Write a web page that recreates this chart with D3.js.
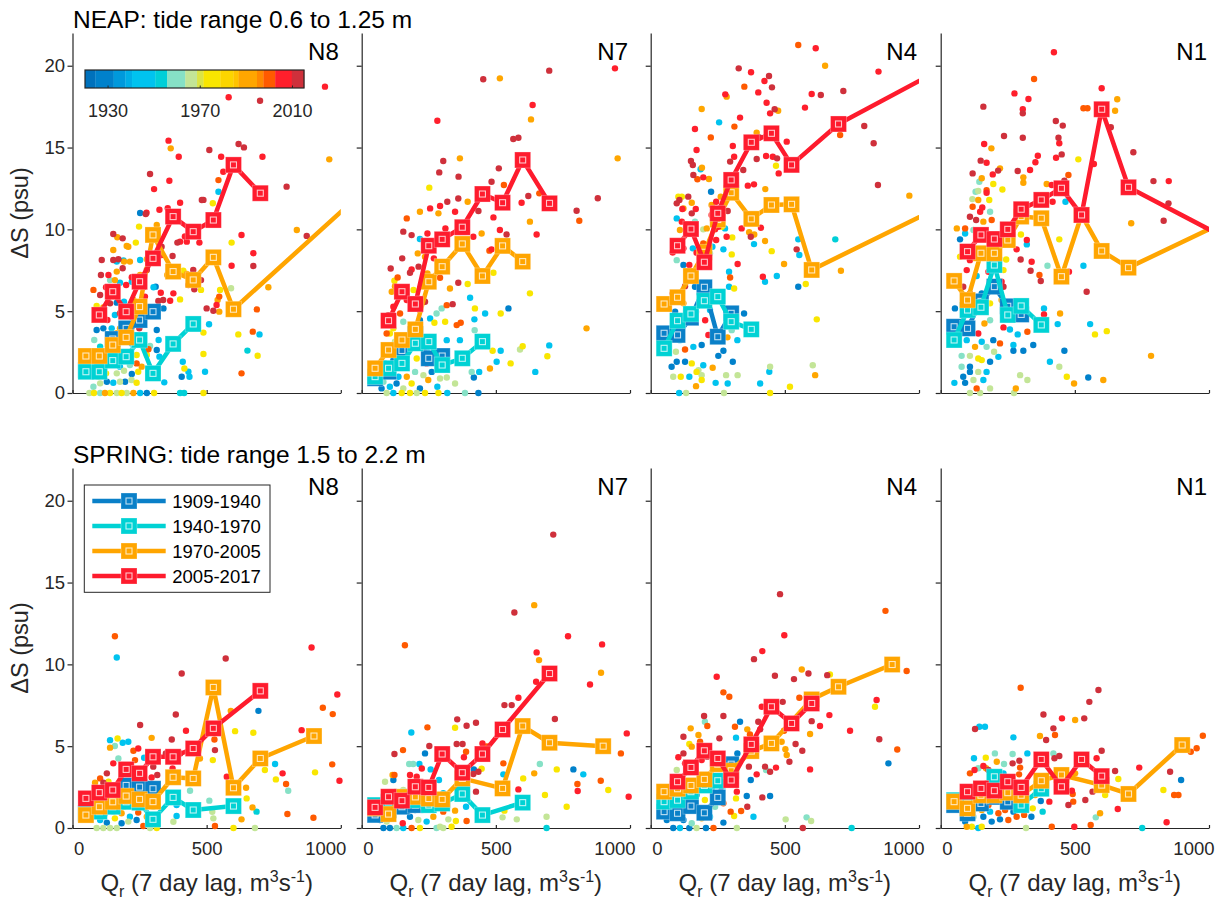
<!DOCTYPE html>
<html>
<head>
<meta charset="utf-8">
<script src="https://cdn.jsdelivr.net/npm/d3@7"></script>
<style>
body { margin: 0; background: #fff; }
text { font-family: "Liberation Sans", Arial, Helvetica, sans-serif; }
</style>
</head>
<body>
<svg width="1219" height="902"></svg>
<script>
// ---- data -------------------------------------------------------------
// discharge bins (m3/s) used by the binned mean lines, 1250 = "above 1000" bin
var qBins = [50, 100, 150, 200, 250, 300, 375, 450, 525, 600, 700, 900, 1250];
var periods = ["1909-1940", "1940-1970", "1970-2005", "2005-2017"];
var periodColors = ["#0a80c8", "#00d2d4", "#ffa500", "#fe1b2d"];

// colour bar: year breaks and colours
var cbBreaks = [1920, 1924.5, 1932.4, 1937.5, 1940.4, 1950.5, 1955.6, 1963.5, 1968.6, 1971.4, 1978.7, 1984.4, 1986.6, 1994.6, 1997.4, 2002.5, 2009.7, 2015];
var cbColors = ["#0071bc", "#0081cb", "#0099dc", "#00aee7", "#00c3ef", "#00cfd8", "#86e1c6", "#c3e597", "#dbe445", "#f9e600", "#fcd500", "#ffc400", "#ffa600", "#ff8800", "#ff5a00", "#ff1f2c", "#cf303b"];
var cbTicks = [1930, 1970, 2010];

var yTicks = [0, 5, 10, 15, 20];
var xTicks = [0, 500, 1000];

// NEAP binned means (one value per qBins entry, null = no bin)
var neapN8P1 = [1.4, 1.9, 3.3, 3.95, 4.46, 4.97];
var neapN8P2 = [1.30, 1.30, 1.98, 2.22, 3.24, 1.20, 3.0, 4.22];
var neapN8P3 = [2.26, 2.26, 2.93, 3.40, 5.28, 9.66, 7.42, 6.91, 8.29, 5.12, null, null, 14.78];
var neapN8P4 = [null, 4.77, 6.19, 4.97, 6.80, 8.23, 10.78, 9.86, 10.57, 13.94, 12.21];

var neapN7P1 = [0.9, 1.3, 2.6, 3.6, 2.12, 2.26];
var neapN7P2 = [1.0, 1.51, 1.81, 3.04, 3.14, 1.71, 2.12, 3.14];
var neapN7P3 = [1.51, 2.63, 3.24, 3.89, 6.80, 7.72, 9.11, 7.15, 8.99, 8.03];
var neapN7P4 = [null, 4.42, 6.19, 5.44, 9.0, 9.39, 10.13, 12.16, 11.63, 14.24, 11.59];

var neapN4P1 = [3.65, 3.55, 4.6, 6.46, 3.44, 4.87];
var neapN4P2 = [2.73, 4.42, 4.83, 5.64, 5.89, 4.36, 3.89];
var neapN4P3 = [5.44, 5.85, 7.15, 8.6, 10.6, 12.24, 10.64, 11.49, 11.53, 7.52, null, null, 12.75];
var neapN4P4 = [null, 9.0, 10.02, 7.99, 10.98, 13.02, 15.32, 15.87, 13.94, null, 16.44, null, 21.26];

var neapN1P1 = [4.05, 3.95, 5.6, 6.5, 5.3, 4.8];
var neapN1P2 = [3.24, 5.07, 5.24, 7.82, 4.77, 5.32, 4.16];
var neapN1P3 = [6.85, 5.68, 8.54, 8.54, 9.35, 10.78, 10.68, 7.11, 10.88, 8.68, 7.66, null, 11.95];
var neapN1P4 = [null, 8.64, 9.66, 9.41, 10.0, 11.23, 11.80, 12.51, 10.88, 17.34, 12.57, null, 7.86];

// SPRING binned means
var springN8P1 = [0.9, 1.2, 1.8, 2.6, 2.5, 2.4];
var springN8P2 = [0.9, 1.0, 1.30, 1.6, 1.55, 0.53, 1.87, 1.10, null, 1.34];
var springN8P3 = [0.79, 1.30, 1.6, 1.95, 1.75, 1.61, 3.10, 3.03, 8.59, 2.46, 4.25, 5.62];
var springN8P4 = [1.81, 2.16, 2.32, 3.58, 3.34, 4.35, 4.35, 4.86, 6.09, null, 8.38];

var springN7P1 = [0.8, 1.1, 1.3, 1.4, 1.6, 1.7];
var springN7P2 = [1.4, 1.6, 1.9, 1.7, 1.4, 1.5, 2.08, 0.79, null, 1.55];
var springN7P3 = [1.2, 0.85, 1.9, 1.9, 1.8, 1.75, 3.03, null, 2.42, 6.23, 5.21, 5.0];
var springN7P4 = [1.26, 1.91, 1.67, 2.52, 2.48, 4.52, 3.38, 4.52, 6.02, null, 9.44];

var springN4P1 = [1.0, 0.9, 1.34, 0.93, 1.87, 3.9];
var springN4P2 = [1.61, 1.7, 2.22, 2.6, 2.89];
var springN4P3 = [2.22, 2.4, 2.6, 2.97, 3.9, 3.5, 4.7, 5.17, null, 7.86, 8.63, 9.99];
var springN4P4 = [null, 2.83, 3.70, 4.72, 4.25, 2.93, 5.11, 7.41, 6.39, 7.61];

var springN1P1 = [1.4, 0.9, 1.5, 1.9, 1.6, 1.5];
var springN1P2 = [1.7, 1.5, 2.1, 3.13, 2.3, 1.40, 2.4];
var springN1P3 = [1.61, 1.20, 2.0, 2.0, 2.16, 2.0, 2.89, 3.24, null, 2.62, 2.08, 5.07];
var springN1P4 = [null, 2.22, 2.42, 2.28, 2.83, 2.48, 4.19, 2.52, 4.19, 3.17];

// individual observations: [Qr, dS, year]
var neapN8Pts = [
[276,11.02,2006],[273,10.94,2012],[324,11.2,2006],[355,11.29,2006],[401,11.63,2006],[488,11.8,2012],[523,11.6,1975],[252,11.0,1928],
[314,10.27,1990],[248,10.17,1975],[236,9.19,1975],[202,8.98,1990],[152,9.72,2012],[187,9.45,2012],[167,9.52,1990],[109,8.13,2012],[152,8.13,2012],[171,8.17,2012],[192,8.03,1990],[214,8.03,1990],[252,8.13,1945],[190,8.1,1945],[277,8.17,1990],[304,8.13,2006],[332,8.43,2006],[373,8.37,2012],[401,9.25,2006],[426,9.25,2006],[473,9.19,2006],[391,9.19,2012],[419,9.56,2006],[332,8.94,2012],
[353,7.21,1990],[382,7.21,2012],[413,7.48,1975],[426,7.27,1990],[450,7.52,2012],[479,6.9,2012],[479,6.3,1975],[454,6.34,2012],[432,6.6,2012],[376,6.09,2006],[401,5.72,1975],[364,5.64,2006],[338,5.68,2012],[329,6.13,2006],[310,6.5,1928],[320,5.62,2012],
[500,5.17,2012],[525,5.03,2012],[537,5.38,2006],[541,5.68,1990],[547,5.89,2000],[550,6.3,1975],[547,4.97,1990],[509,4.2,1945],[488,3.69,1975],[488,2.38,1975],[494,1.3,1945],[411,1.91,1945],[417,1.5,1975],[432,1.3,1945],[436,0.99,1945],[407,0.99,1928],[416,0,1953],[401,0,1953],[488,0,1975],
[591,6.4,1966],[630,9.66,2006],[593,9.19,1975],[674,8.54,2006],[674,7.76,2012],[593,7.78,2006],[730,6.46,1990],[687,5.11,2000],[618,3.58,1975],[672,3.75,2000],[697,3.58,1945],[652,2.59,1953],[690,2.28,1975],[630,1.2,2000],[836,9.96,1990],[873,9.6,2012],
[324,2.22,1945],[342,0.65,1945],[321,3.24,1945],[295,4.87,1928],[339,5.17,1928],
[63,0,1966],[80,0,1975],[103,0,1960],[121,0,1990],[140,0,1975],[165,0,1966],[183,0,1975],[202,0,1966],[227,0,1990],[252,0,1945],[277,0,1928],[304,0,1975],
[78,0.38,1960],[103,0.59,1966],[128,0.69,1928],[152,0.63,1945],[177,0.69,1966],[196,0.69,1928],[220,0.79,1966],[239,0.63,1975],
[96,0.99,1966],[125,1.2,1975],[165,1.2,1966],[192,1.36,1966],[221,1.16,1928],[245,1.3,1975],[258,1.61,1990],
[103,1.71,1990],[140,1.81,1975],[177,1.61,1945],[214,1.71,1960],[239,1.81,2000],
[84,2.42,1945],[109,2.12,1928],[146,2.42,1928],[177,2.22,2000],[239,2.32,1975],[277,2.32,1975],[289,2.87,1960],[314,2.63,1928],
[81,3.24,1960],[103,2.83,1953],[140,3.48,1945],[165,3.65,1990],[221,3.03,1945],[249,3.28,2000],[283,2.67,2000],
[90,3.85,1928],[115,3.95,1928],[146,3.95,1945],[177,3.95,1990],[221,4.05,2006],[249,3.95,2012],[314,3.85,1928],
[103,4.62,2012],[130,4.46,2006],[158,4.77,1945],[177,4.87,2012],[221,4.66,1928],[245,4.97,1990],[264,5.28,1945],
[90,5.32,1975],[115,5.23,1990],[140,5.48,2012],[165,5.52,1928],[192,5.58,1945],[227,5.68,1990],[270,5.89,2006],
[78,6.3,2000],[103,5.99,2012],[125,6.46,2006],[158,6.9,1990],[177,6.74,1945],[200,6.6,2006],[221,6.8,1945],[239,6.5,2000],[264,6.46,2012],[302,6.46,1945],[140,6.9,1960],
[106,7.21,2012],[134,7.21,2006],[165,7.42,1990],[187,7.62,2012],[221,7.07,2006],[252,7.21,1990],[277,7.52,2012],[165,8.03,1945],[152,8.74,1990],[208,8.94,1990],
[941,18.72,2006],[582,18.07,2006],[699,17.86,2012],[358,15.42,2006],[366,14.95,1990],[510,14.85,2012],[619,15.22,2012],[639,15.01,2012],[396,14.44,2006],[554,14.44,2006],[708,14.44,2006],[957,14.28,1990],[289,13.38,2012],[361,12.97,2006],[304,12.46,2006],[544,13.01,2000],[544,12.3,1945],[562,13.52,2006],[798,12.61,2012],[482,11.79,2012]
];

var neapN7Pts = [
[944,19.84,2006],[699,19.7,2012],[453,19.17,2012],[515,19.23,1990],[637,17.6,2006],[631,16.72,1990],[282,16.64,2006],[565,15.52,2012],[584,15.6,2012],[954,14.34,1990],[304,14.18,2012],[366,14.34,1990],[289,13.48,2012],[361,13.22,2012],[511,13.73,2012],[484,12.91,2012],[530,12.71,2000],[621,12.04,2012],[596,11.63,2006],[662,12.2,2000],[880,11.9,2012],[801,11.14,2012],[811,10.53,2000],
[252,12.55,1975],[255,11.28,2006],[217,11.08,1990],[286,10.98,1990],[292,11.43,2006],[319,11.69,2012],[360,11.89,2012],[348,11.08,2006],[395,11.69,1990],[435,11.12,2012],[491,10.73,2006],[515,9.96,2006],[540,9.69,2012],[652,9.69,2006],[627,10.47,1990],[447,9.75,1990],[168,10.67,2000],[312,10.06,2006],[155,9.86,2012],[186,9.65,2012],[217,9.41,1945],[245,9.75,2006],[416,9.55,2006],
[108,7.61,2012],[151,8.23,2012],[180,7.35,2012],[186,7.55,2006],[209,8.53,1990],[212,7.72,2012],[236,8.33,1990],[245,7.31,1990],[269,8.23,2006],[292,7.04,2000],[360,6.74,2012],[395,6.66,1975],[484,8.78,2006],[476,8.7,2000],[491,7.35,1975],[627,6.09,1975],[838,3.95,1990],
[134,7.06,2000],[122,6.86,1975],[112,6.19,1990],[118,5.27,2006],[99,4.76,2012],[339,5.43,2012],[317,5.37,2000],[329,6.39,1990],[236,5.58,2012],[255,4.56,1945],[279,4.86,1960],[298,5.17,1960],[271,4.29,1975],[311,4.35,1975],[354,4.15,2000],[369,4.29,2000],[404,5.82,1945],[422,5.17,1975],[420,4.5,1945],[460,4.86,1945],[518,4.86,1975],[547,5.17,1928],[421,3.84,1960],
[317,3.23,1945],[366,3.23,1945],[488,2.58,1975],[518,2.58,1945],[600,2.86,1975],[590,2.66,1966],[699,2.91,1945],[692,2.25,1975],[555,1.81,1975],[503,1.91,1945],[478,1.5,1990],[438,1.29,1945],[410,1.29,1960],[418,0.95,1928],[647,1.29,1945],[435,0,1928],[385,0,1960],[319,0,1945],[286,0,1975],[348,0.58,1966],[317,0.95,1966],[292,0.89,1966],[282,0.38,1945],
[74,0.28,1928],[93,0,1966],[118,0,1945],[149,0,1975],[180,0,1975],[205,0,1966],[236,0,1975],[81,0.68,1960],[105,0.38,1945],[130,0.58,1928],[155,0.28,1966],[186,0.58,1975],[217,0.28,1928],[248,0.79,1990],[105,1.09,1975],[137,0.99,1945],[168,0.99,1990],[199,1.29,1960],[230,1.09,1966],[261,1.29,1928],[87,1.81,1945],[118,2.01,1928],[161,1.91,1960],[205,2.11,1975],[242,1.81,2006],[93,2.82,1960],[124,3.13,1966],[161,3.03,1953],[205,2.82,1928],[242,2.62,1945],[105,3.64,1975],[118,3.95,1975],[155,4.35,1960],[186,4.15,1945],[217,4.45,1928],[143,4.86,2000],[93,3.64,2000],[124,6.53,1990],[168,5.68,2006],[193,6.29,1975],[217,5.07,2006]
];

var neapN4Pts = [
[550,21.27,2000],[615,21.07,2006],[650,20.0,1990],[849,19.64,2006],[328,19.84,2012],[374,19.6,2006],[441,19.37,2012],[424,19.07,2006],[452,18.68,2012],[349,18.72,2000],[401,18.37,2006],[600,18.27,2006],[634,18.21,2012],[718,18.46,2012],[278,18.25,2006],[283,18.11,1990],[432,17.74,2006],[575,17.44,2006],[462,17.34,2012],[475,17.25,1990],[445,17.09,2006],[190,17.36,1990],[333,16.83,2006],[312,16.28,2000],[165,16.13,2006],[255,16.54,1945],[224,15.62,2000],[395,15.91,1990],[405,15.62,2012],[796,16.32,2012],[706,15.77,2000],[831,15.26,2012],[306,15.09,2006],[171,14.85,2006],[311,14.44,2006],[395,14.3,2012],[430,14.48,2006],[455,14.44,2006],[471,14.34,2012],[467,13.89,1975],[477,13.42,2006],[507,15.36,2006],[150,14.18,2012],[157,13.93,2012],[186,13.67,1945],[191,13.77,1990],[159,13.32,2012],[196,13.18,2006],[217,13.08,1990],[174,13.06,2000],[296,14.14,2012],[345,13.63,2012],[362,12.67,2006],[385,12.75,2006],[847,12.71,2012],[964,12.06,1990],[427,12.46,1990],[225,12.3,1928],[116,12.0,1975],[107,11.79,2012],[140,12.0,2012],[153,11.63,1990],[168,11.24,2006],[118,11.24,2006],[227,11.49,1990],[244,11.69,2006],[287,11.12,2012],[261,12.0,1990],[227,10.88,2006],[97,10.67,1945],[116,10.47,2006],[109,9.96,1990],[165,10.47,1960],[196,10.0,1966],[209,10.06,1990],[240,10.0,2006],[252,10.16,2006],[265,10.16,1975],[277,10.06,1945],[283,9.55,2006],[304,9.51,1975],[339,10.06,2006],[367,9.82,1990],[373,9.55,2012],[386,9.69,1990],[411,10.1,2006],[426,9.29,1990],[385,9.1,1945],[451,8.67,1975],[497,7.88,1990],[544,8.78,2012],[554,8.43,1945],[550,9.39,1945],[688,9.39,1953],[709,7.47,1990],[324,7.88,2006],[302,8.47,1975],[271,8.78,1945],[244,9.35,2006],[230,8.94,1945],[211,8.33,1945],[171,8.57,2006],[157,8.84,1945],[122,8.84,2006],[82,8.59,2006],[97,8.12,1960],[122,7.82,1928],[144,7.82,2006],[292,7.41,1945],[296,7.06,2000],[311,6.39,1975],[292,6.49,1945],[418,7.1,2006],[426,6.8,1945],[470,7.15,1945],[550,6.49,1928],[578,6.66,1975],[619,4.5,1975],[604,1.7,1966],[613,1.09,1990],[519,0.38,1975],[445,0,1975],[445,1.6,1966],[442,1.3,1945],[408,0.58,1945],[324,1.09,1966],[287,0.58,1945],[281,1.09,1966],[273,0,1966],[242,0.62,1945],[306,1.91,1928],[271,2.58,1928],[252,2.27,1928],[231,1.54,1990],[323,3.23,1945],[348,4.86,1928],[286,3.4,1990],[302,3.84,1960],
[106,0,1945],[132,0,1966],[84,0.99,1966],[112,0.99,1975],[144,0.99,1945],[171,1.29,1975],[190,1.09,1966],[78,1.6,1928],[97,1.91,1928],[128,1.91,1928],[153,1.81,1975],[178,1.4,1966],[196,1.7,1945],[190,0.79,1975],[169,0.42,1990],[94,2.52,1966],[128,2.66,2000],[159,2.82,1945],[190,2.93,1928],[215,3.54,2006],[109,3.23,1945],[97,4.05,2006],[122,4.35,1960],[147,4.66,1928],[169,4.97,1945],[203,4.45,2006],[221,5.07,1945],[91,4.97,1928],[122,5.48,1990],[82,6.09,2006],[128,6.53,2012],[147,7.0,1975],[165,6.49,1928],[184,7.72,2006],[196,9.14,2000],[221,8.53,1960],[97,11.59,2012],[122,11.28,1990],[153,10.98,2012],[103,12.0,1975]
];

var neapN1Pts = [
[422,20.82,2006],[348,19.19,2000],[275,18.31,2006],[327,17.97,2006],[159,17.5,2012],[600,18.62,2006],[658,17.95,1990],[532,17.4,2000],[547,17.4,2000],[650,17.25,1990],[306,17.34,2006],[306,17.09,2012],[429,16.62,2012],[455,16.34,2012],[236,15.71,2012],[306,15.6,2012],[439,15.6,2012],[442,15.26,2006],[162,15.22,2006],[189,14.95,1990],[718,14.71,2012],[451,14.58,2012],[362,14.5,2006],[430,14.38,2006],[513,14.28,1975],[634,16.24,2012],[149,14.2,2012],[171,14.07,2006],[287,13.57,2012],[353,14.1,2006],[333,13.63,2006],[221,13.73,1990],[214,13.59,2012],[194,13.36,2006],[119,13.42,2012],[153,13.12,1990],[196,12.77,1975],[230,12.44,1975],[308,13.18,1990],[308,12.85,1990],[476,13.32,2000],[395,12.77,1990],[414,12.71,2006],[461,12.97,2012],[571,13.99,2006],[793,12.95,2012],[850,12.95,2006],[849,11.59,2012],[831,10.53,2012],[710,10.37,1990],[144,12.91,1960],[140,12.34,1966],[130,12.3,1960],[118,11.85,1966],[140,11.79,1990],[171,12.4,2000],[171,12.24,2006],[181,11.79,1975],[119,11.38,2000],[147,11.08,2006],[184,11.08,1960],[155,11.34,2006],[109,10.77,2012],[132,10.57,2012],[159,10.47,1990],[190,10.57,2000],[91,10.06,2000],[122,9.96,1960],[91,9.75,1945],[72,9.39,1928],[283,8.78,2006],[299,9.69,1975],[321,9.35,2006],[321,9.08,1945],[298,8.16,2012],[339,8.02,2006],[335,7.47,2012],[368,7.21,2000],[373,6.84,2012],[398,7.78,1960],[442,9.39,1975],[417,11.69,2006],[465,11.69,1945],[478,7.41,2006],[532,7.78,1945],[544,6.19,2012],[445,4.86,1990],[436,4.21,1945],[461,2.58,1928],[407,1.91,1945],[442,1.6,1966],[470,0.99,1975],[497,0.58,1990],[550,0.95,1928],[606,0.79,1990],[557,4.21,1945],[575,3.58,1975],[619,3.78,1975],[784,2.27,1990],[385,5.17,1945],[385,4.8,2006],[323,3.74,2000],[345,2.93,1928],[308,2.58,1928],[271,2.58,1928],[271,2.93,1945],[287,3.58,1945],[258,3.88,1945],[296,1.09,1966],[323,0.79,1966],[280,0.28,1990],[273,0,1966],[234,4.01,2006],[227,5.68,1990],[234,6.49,2012],[244,8.16,1975],
[109,0,1966],[147,0,1966],[134,0.28,2000],[184,0.28,1966],[51,0.62,1945],[91,0.62,1928],[122,0.79,1966],[159,0.79,1945],[84,0.99,1928],[109,1.29,1928],[140,1.29,1966],[171,1.29,1945],[78,1.6,1960],[109,1.6,1928],[153,2.01,1975],[184,1.91,1928],[215,2.21,1945],[78,2.27,1960],[109,2.27,1966],[140,2.11,1975],[199,2.52,1966],[128,2.82,1990],[153,3.13,1945],[97,3.23,1945],[171,2.82,1960],[196,3.23,1928],[221,3.03,2000],[140,3.64,2006],[184,4.45,1960],[163,4.25,1990],[53,5.17,1928],[91,4.86,1945],[122,5.68,1945],[153,6.09,1928],[184,5.48,1975],[109,6.09,2000],[84,6.49,2012],[134,7.15,1945],[178,7.41,2006],[227,6.8,2006],[72,8.33,1975],[97,7.51,2006],[109,8.12,2006],[153,8.53,1990],[234,7.51,1975],[60,10.06,1990]
];

var springN8Pts = [
[158,11.72,2000],[165,10.42,1945],[891,11.03,2006],[571,10.36,2012],[407,9.44,2012],[385,6.94,2012],[987,8.16,2006],[933,7.35,2000],[970,6.96,2000],[854,5.98,2006],[693,7.16,1928],[606,5.92,1975],[674,5.82,1975],[590,7.16,1990],[525,6.19,2000],[529,5.41,2000],[531,4.76,2012],[523,4.15,1975],[423,5.94,2006],[370,5.41,2012],[295,5.51,1990],[252,6.29,2012],[168,5.47,1975],[208,5.27,1945],[187,5.21,1945],[140,4.91,1990],[158,5.01,1960],[227,4.72,2000],[245,4.86,2006],[233,4.15,2000],[267,4.29,1945],[171,4.25,1960],[373,3.64,2006],[348,4.56,2012],[401,4.56,2012],[301,3.75,2012],[316,3.24,2012],[295,3.09,2006],[152,3.95,2006],[128,3.34,2012],[103,3.03,2000],[475,4.25,1990],[575,3.13,2006],[647,2.46,1990],[649,1.81,1975],[671,1.26,1990],[686,1.0,1953],[717,3.54,1975],[755,3.91,1945],[758,2.97,1975],[783,3.34,2006],[796,2.69,2000],[804,2.28,1960],[801,0.86,2000],[898,0.63,2000],[904,3.4,1975],[968,3.89,2000],[995,2.89,2006],[680,0,1966],[630,0.53,1990],[600,0,1975],[531,0.12,2000],[510,1.67,1960],[521,0.99,1966],[525,0.59,1966],[438,2.28,1960],[388,0.73,1945],[376,0.38,1966],[370,1.75,1960],[388,1.4,1945],
[90,0,1966],[115,0,1966],[140,0,1966],[165,0,1966],[264,0.12,2000],[289,0,1966],[314,0,1975],[103,0.49,1945],[128,0.33,1928],[158,0.59,1975],[183,0.29,1928],[208,0.39,1966],[239,0.49,1928],[277,0.69,1990],[90,0.79,1928],[121,0.9,1945],[152,1.0,1960],[183,0.9,1990],[214,0.69,1945],[245,0.94,2000],[96,1.41,1960],[128,1.71,1928],[165,1.51,1945],[192,1.3,1975],[227,1.61,1928],[264,1.51,1966],[301,1.3,1960],[103,2.12,1990],[134,2.22,1928],[171,2.28,2006],[214,2.01,1960],[239,2.52,1945],[277,2.56,1928],[84,2.77,1990],[134,2.83,1975],[171,2.63,1945],[140,5.37,1945],[115,2.77,2012],[140,2.32,2000]
];

var springN7Pts = [
[714,17.93,2012],[643,13.62,1990],[569,13.17,2012],[161,11.17,2000],[769,11.72,2006],[896,11.22,2006],[652,10.73,2006],[661,10.26,1990],[892,9.49,1990],[851,8.77,2006],[650,8.94,2006],[559,7.51,2012],[532,7.51,2012],[584,7.96,2006],[720,6.66,2012],[988,5.78,2006],[966,4.56,2000],[919,2.32,1975],[995,1.91,2006],[891,2.89,2000],[804,2.69,2000],[805,2.26,2006],[789,3.58,1928],[826,3.28,1945],[727,3.58,1975],[764,1.3,1975],[689,0.69,1966],[689,0,1953],[664,3.91,1960],[643,3.34,1990],[683,2.02,1975],[602,3.03,1975],[584,2.36,2006],[578,0.53,1966],[525,0.65,1966],[528,3.28,1945],[528,3.95,2000],[532,1.06,1975],[450,5.17,2006],[466,4.99,2000],[447,3.62,1975],[426,6.43,2012],[391,6.25,2012],[356,6.64,2012],[348,6.13,1975],[354,5.13,2012],[376,5.13,2012],[389,4.66,2000],[381,4.32,2006],[418,3.58,1928],[435,3.44,2012],[416,3.3,2012],[426,2.22,2012],[389,1.3,1945],[391,0.43,2000],[351,0.43,1975],[348,1.06,1990],[304,1.0,2000],[292,0.08,1966],[335,0.08,1975],[304,0,1966],[279,0,1960],[323,0.53,1966],[288,2.93,1945],[252,5.01,2012],[236,4.56,1928],[245,6.15,2000],[185,5.84,1945],[154,4.76,2000],[122,4.52,2012],[122,3.24,2000],[180,3.24,2006],[205,3.13,2006],[224,3.64,2006],[257,3.58,1945],[177,3.91,1960],[215,3.91,1945],[192,3.91,1960],
[81,0,1928],[105,0,1928],[130,0,1960],[155,0,1945],[186,0,2000],[217,0,1975],[68,0.49,1928],[93,0.39,1966],[118,0.69,1945],[153,0.29,2006],[180,0.69,1928],[211,0.49,1966],[242,0.39,1945],[267,0.69,1990],[93,1.2,1966],[124,1.1,1928],[161,1.3,1975],[199,1.1,1928],[230,1.3,1945],[87,2.02,1960],[118,2.93,1928],[155,2.32,1966],[186,2.52,1960],[224,1.61,1945],[255,2.02,1975],[286,1.81,1928],[304,2.12,1945],[87,2.83,1966],[115,3.24,1990]
];

var springN4Pts = [
[482,14.29,2012],[875,13.27,2000],[498,11.78,2006],[416,10.81,2006],[385,10.32,2012],[563,9.69,1990],[588,9.44,2012],[658,9.34,2012],[668,9.38,1975],[954,9.59,2000],[246,9.24,2006],[463,9.3,2012],[534,9.1,2012],[271,8.29,2000],[293,8.02,2000],[842,7.82,2006],[836,7.41,1975],[743,5.94,2006],[666,6.9,2006],[631,6.23,2006],[600,6.53,2012],[594,5.74,1990],[852,5.42,2012],[919,4.8,2000],[886,3.95,1928],[554,7.96,2000],[540,5.13,2012],[565,4.72,2012],[517,4.05,2012],[502,4.82,1990],[507,4.46,1990],[488,5.27,1990],[594,3.58,2006],[497,5.94,2000],[492,7.71,2012],[414,7.41,2006],[401,6.49,2012],[408,6.03,2012],[360,6.03,1990],[370,5.72,2000],[333,6.49,1928],[314,6.19,2000],[271,6.84,2012],[318,5.52,1945],[323,4.56,1928],[426,3.75,2012],[445,3.44,2012],[467,3.69,2006],[430,3.54,1960],[395,3.28,2006],[373,2.93,1928],[366,3.75,2012],[358,1.96,1928],[360,1.3,2012],[321,2.22,2006],[318,1.81,1975],[416,1.87,2012],[445,1.96,1928],[383,0.69,1945],[311,0.73,1975],[298,1.0,2000],[337,1.04,2000],[321,0,1966],[503,0.53,1966],[581,0.65,1960],[598,0.43,1966],[567,0,2012],[749,0,1953],[271,0.33,1928],[234,0,2000],
[84,0,1928],[109,0,1945],[144,0,1928],[171,0,1966],[206,0,1928],[60,0.49,1928],[91,0.69,1953],[122,0.49,1928],[153,0.29,1960],[190,0.59,1990],[221,0.69,1945],[271,1.51,2000],[240,1.3,1960],[109,2.32,1945],[140,2.52,1990],[171,2.02,1928],[202,1.71,1975],[227,2.42,1945],[97,3.54,1966],[128,3.95,2006],[159,3.75,1975],[190,4.15,2006],[211,4.36,2012],[122,4.56,2012],[153,4.97,1990],[184,5.27,2000],[144,5.13,1975],[122,5.58,2012],[149,6.09,1990],[202,6.5,1960],[199,6.84,2012],[211,6.23,2000],[256,5.48,2012],[178,5.68,1990],[103,4.32,2006]
];

var springN1Pts = [
[298,8.57,2000],[588,8.43,2012],[554,7.71,2012],[383,6.94,2012],[452,6.7,2006],[535,6.7,2012],[501,6.6,1990],[420,6.09,2012],[426,5.68,2000],[393,5.38,2012],[370,5.62,1990],[977,5.64,2000],[954,4.87,2000],[932,4.66,2000],[855,3.44,2012],[896,2.93,1928],[830,2.32,1975],[870,2.02,2000],[886,2.02,2000],[740,3.69,2006],[662,2.99,1975],[660,1.16,2006],[650,3.48,2012],[600,4.72,2012],[581,4.26,2006],[566,2.22,2012],[613,2.02,1975],[539,1.71,2012],[501,3.34,1990],[492,2.08,2000],[494,1.61,2000],[476,1.41,2012],[489,2.28,2006],[442,4.4,2012],[424,4.26,2012],[420,4.56,1960],[405,1.61,2006],[373,1.65,1928],[380,1.0,1953],[343,1.2,1975],[352,2.02,1990],[323,4.56,1945],[293,4.11,2012],[296,3.69,2000],[292,3.28,2000],[271,5.54,1945],[236,3.91,1960],[268,3.95,2012],[414,0.08,2000],[498,0.08,2006],[559,0.19,2000],[594,0.9,1990],[578,0.65,1960],[751,0,1953],[842,0.35,2006],[318,0,1966],[338,0.69,1928],[311,0.8,2000],[283,0.69,2000],[128,6.05,2012],[144,6.19,1945],[165,6.19,1945],[124,4.26,1945],[168,4.3,1975],[202,4.56,1960],[209,4.05,1990],
[97,0.08,1990],[116,0.08,1975],[140,0,1945],[153,0.08,1975],[91,0.39,1928],[122,0.69,1960],[159,0.69,1928],[190,0.39,1928],[221,0.53,1928],[252,0.49,2000],[184,1.0,1945],[215,0.9,2000],[84,0.9,1928],[122,1.1,1966],[153,1.1,1990],[240,1.1,2000],[271,1.0,1928],[109,1.51,1928],[178,1.41,2000],[128,1.91,1945],[159,1.91,1975],[190,1.91,2000],[221,2.02,1975],[252,2.12,2012],[84,2.32,1928],[134,2.52,1990],[171,2.73,2000],[202,3.24,2000],[234,3.34,1945],[109,3.34,2000],[140,3.65,1960],[169,3.65,1990],[126,3.54,2006],[159,3.79,2006],[178,3.54,2012],[268,4.52,1960]
];

var panels = [
  {row: 0, col: 0, name: "N8", pts: neapN8Pts, lines: [neapN8P1, neapN8P2, neapN8P3, neapN8P4]},
  {row: 0, col: 1, name: "N7", pts: neapN7Pts, lines: [neapN7P1, neapN7P2, neapN7P3, neapN7P4]},
  {row: 0, col: 2, name: "N4", pts: neapN4Pts, lines: [neapN4P1, neapN4P2, neapN4P3, neapN4P4]},
  {row: 0, col: 3, name: "N1", pts: neapN1Pts, lines: [neapN1P1, neapN1P2, neapN1P3, neapN1P4]},
  {row: 1, col: 0, name: "N8", pts: springN8Pts, lines: [springN8P1, springN8P2, springN8P3, springN8P4]},
  {row: 1, col: 1, name: "N7", pts: springN7Pts, lines: [springN7P1, springN7P2, springN7P3, springN7P4]},
  {row: 1, col: 2, name: "N4", pts: springN4Pts, lines: [springN4P1, springN4P2, springN4P3, springN4P4]},
  {row: 1, col: 3, name: "N1", pts: springN1Pts, lines: [springN1P1, springN1P2, springN1P3, springN1P4]}
];
var rowTitles = ["NEAP: tide range 0.6 to 1.25 m", "SPRING: tide range 1.5 to 2.2 m"];

// ---- layout ----------------------------------------------------------
var svg = d3.select("svg");
var colLeft = [72.5, 361.7, 650.7, 940.7], axW = 268.3;
var rowTop = [33, 468], rowBot = [393, 828];
var axisColor = "#262626";
var tickFont = 18.5;

var yearColor = d3.scaleThreshold().domain(cbBreaks.slice(1, -1)).range(cbColors);

// square marker: solid square with a faint pale centre
function marker(g, cx, cy, color) {
    g.append("rect").attr("x", cx - 8).attr("y", cy - 8)
        .attr("width", 16).attr("height", 16).attr("fill", color)
        .attr("stroke", "#fff").attr("stroke-width", 0.8).attr("stroke-opacity", 0.35);
    g.append("rect").attr("x", cx - 3).attr("y", cy - 3)
        .attr("width", 6).attr("height", 6).attr("fill", "none")
        .attr("stroke", "#fff").attr("stroke-width", 1.1).attr("opacity", 0.75);
}

panels.forEach(function(p, pi) {
    var left = colLeft[p.col], top = rowTop[p.row], bot = rowBot[p.row];
    var x = d3.scaleLinear().domain([0, 1000]).range([left, left + axW]);
    var y = d3.scaleLinear().domain([0, 22]).range([bot, top]);
    var g = svg.append("g");

    // y axis (ticks outward)
    var ya = g.append("g").attr("transform", "translate(" + left + ",0)")
        .call(d3.axisLeft(y).tickValues(yTicks).tickSize(5).tickSizeOuter(0).tickPadding(2.5)
            .tickFormat(p.col == 0 ? d3.format("d") : ""));
    // x axis (ticks inward)
    var xa = g.append("g").attr("transform", "translate(0," + bot + ")")
        .call(d3.axisBottom(x).tickValues(xTicks).tickSize(-3).tickSizeOuter(0).tickPadding(14)
            .tickFormat(p.row == 1 ? d3.format("d") : ""));
    [ya, xa].forEach(function(a) {
        a.selectAll("path, line").attr("stroke", axisColor).attr("stroke-width", 1.2);
        a.selectAll("text").attr("fill", axisColor).attr("font-size", tickFont)
            .attr("font-family", "Liberation Sans, Arial, sans-serif");
    });
    xa.selectAll(".tick text").each(function(d) {
        if (d == 0) d3.select(this).attr("text-anchor", "start").attr("x", 1);
        if (d == 1000) d3.select(this).attr("text-anchor", "end").attr("x", 5);
    });

    // scatter of single observations, older first
    var pts = p.pts.slice().sort(function(a, b) { return a[2] - b[2]; });
    g.append("g").selectAll("circle").data(pts).enter().append("circle")
        .attr("cx", function(d) { return x(d[0]); })
        .attr("cy", function(d) { return y(d[1]); })
        .attr("r", 3.2)
        .attr("fill", function(d) { return yearColor(d[2]); });

    // binned mean lines, clipped to the axes box
    var clipId = "clip" + pi;
    svg.append("clipPath").attr("id", clipId).append("rect")
        .attr("x", left).attr("y", top).attr("width", axW).attr("height", bot - top);
    var line = d3.line().x(function(d) { return x(d.q); }).y(function(d) { return y(d.v); });
    p.lines.forEach(function(vals, si) {
        var data = qBins.map(function(q, i) { return {q: q, v: vals[i]}; })
            .filter(function(d) { return d.v != null; });
        var sg = g.append("g");
        sg.append("path").datum(data).attr("d", line)
            .attr("clip-path", "url(#" + clipId + ")")
            .attr("fill", "none").attr("stroke", periodColors[si])
            .attr("stroke-width", 4.5).attr("stroke-linejoin", "round");
        data.filter(function(d) { return d.q <= 1000; }).forEach(function(d) {
            marker(sg, x(d.q), y(d.v), periodColors[si]);
        });
    });

    // station name
    g.append("text").attr("x", left + axW - 2).attr("y", top + 26.5)
        .attr("text-anchor", "end").attr("font-size", 24).attr("fill", "#000").text(p.name);

    if (p.col == 0) {
        g.append("text")
            .attr("transform", "translate(28," + ((top + bot) / 2) + ") rotate(-90)")
            .attr("text-anchor", "middle").attr("font-size", 23.5).attr("fill", axisColor)
            .text("\u0394S (psu)");
    }
    if (p.row == 1) {
        var t = g.append("text").attr("x", left + axW / 2).attr("y", 891)
            .attr("text-anchor", "middle").attr("font-size", 24).attr("fill", axisColor);
        t.append("tspan").text("Q");
        t.append("tspan").attr("dy", 6).attr("font-size", 16).text("r");
        t.append("tspan").attr("dy", -6).text(" (7 day lag, m");
        t.append("tspan").attr("dy", -9).attr("font-size", 16).text("3");
        t.append("tspan").attr("dy", 9).text("s");
        t.append("tspan").attr("dy", -9).attr("font-size", 16).text("-1");
        t.append("tspan").attr("dy", 9).text(")");
    }
});

// row titles
rowTitles.forEach(function(s, i) {
    svg.append("text").attr("x", 73).attr("y", i == 0 ? 28 : 463)
        .attr("font-size", 24.5).attr("fill", "#000").text(s);
});

// colour bar inside the first panel
var cbX = d3.scaleLinear().domain([cbBreaks[0], cbBreaks[cbBreaks.length - 1]]).range([85, 304]);
var cbY = 70, cbH = 18;
var cb = svg.append("g");
cb.selectAll("rect.band").data(cbColors).enter().append("rect")
    .attr("class", "band")
    .attr("x", function(d, i) { return cbX(cbBreaks[i]); })
    .attr("width", function(d, i) { return cbX(cbBreaks[i + 1]) - cbX(cbBreaks[i]) + 0.3; })
    .attr("y", cbY).attr("height", cbH).attr("fill", function(d) { return d; });
cb.append("rect").attr("x", cbX.range()[0]).attr("y", cbY)
    .attr("width", cbX.range()[1] - cbX.range()[0]).attr("height", cbH)
    .attr("fill", "none").attr("stroke", axisColor).attr("stroke-width", 1.2);
cbTicks.forEach(function(t) {
    cb.append("line").attr("x1", cbX(t)).attr("x2", cbX(t))
        .attr("y1", cbY + cbH).attr("y2", cbY + cbH - 2.5).attr("stroke", axisColor);
    cb.append("text").attr("x", cbX(t)).attr("y", 117).attr("text-anchor", "middle")
        .attr("font-size", 18).attr("fill", axisColor).text(t);
});

// legend in the spring N8 panel
var lg = svg.append("g");
lg.append("rect").attr("x", 84.3).attr("y", 485).attr("width", 185.7).attr("height", 107.3)
    .attr("fill", "#fff").attr("stroke", axisColor).attr("stroke-width", 1);
periods.forEach(function(name, i) {
    var ly = 501 + i * 25;
    lg.append("line").attr("x1", 92.3).attr("x2", 165.7).attr("y1", ly).attr("y2", ly)
        .attr("stroke", periodColors[i]).attr("stroke-width", 4.5);
    marker(lg, 129, ly, periodColors[i]);
    lg.append("text").attr("x", 172.3).attr("y", ly + 6.5)
        .attr("font-size", tickFont).attr("fill", "#000").text(name);
});
</script>
</body>
</html>
